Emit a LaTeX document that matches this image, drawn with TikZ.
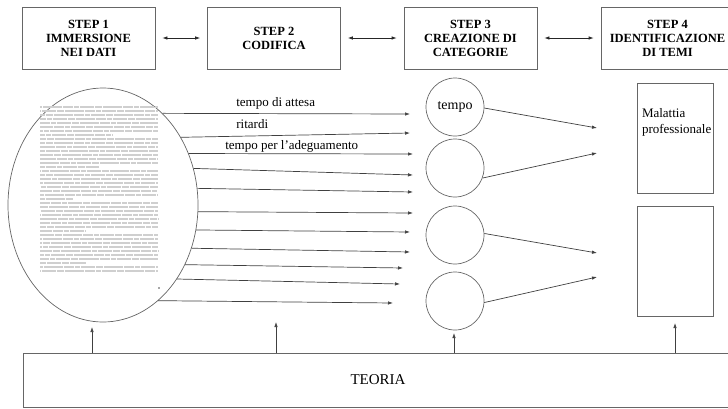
\documentclass[tikz,border=0pt]{standalone}
\usepackage{fontspec}
\setmainfont{Liberation Serif}
\usetikzlibrary{shapes.geometric, arrows.meta}

\begin{document}
\begin{tikzpicture}[x=1pt, y=-1pt, line width=0.7pt,
    stepbox/.style={draw=black!60, minimum width=133pt, minimum height=62pt, align=center, inner sep=1pt,
                    font=\bfseries\fontsize{12.5}{14}\selectfont},
    catnode/.style={draw=black!60, circle, minimum size=58pt, inner sep=0pt, font=\fontsize{14}{16}\selectfont},
    themebox/.style={draw=black!60, minimum width=76pt, minimum height=110pt},
    flow/.style={draw=black!75, -{Latex[length=5pt, width=3.5pt]}},
    link/.style={draw=black!85, {Latex[length=5pt, width=3.5pt]}-{Latex[length=5pt, width=3.5pt]},
                 shorten <=7pt, shorten >=7pt},
    lbl/.style={anchor=west, inner sep=0pt, font=\fontsize{13}{16}\selectfont},
    scrib/.style={gray!38, line width=1.4pt,
                  dash pattern=on 14pt off 1pt on 7pt off 1pt on 19pt off 1pt on 10pt off 1pt on 5pt off 1pt}]
  \useasboundingbox (0,0) rectangle (728,408);
  \clip (0,0) rectangle (728,408);

  \node[stepbox] (s1) at (88.5,38)  {STEP 1\\IMMERSIONE\\NEI DATI};
  \node[stepbox] (s2) at (274,38)   {STEP 2\\CODIFICA};
  \node[stepbox] (s3) at (470.5,38) {STEP 3\\CREAZIONE DI\\CATEGORIE};
  \node[stepbox] (s4) at (667.5,38) {STEP 4\\IDENTIFICAZIONE\\DI TEMI};
  \foreach \a/\b in {s1/s2, s2/s3, s3/s4}
    \draw[link] (\a) -- (\b);

  \node[draw=black!60, ellipse, minimum width=190pt, minimum height=234pt, inner sep=0pt] (doc) at (103,205) {};
  \pgfmathsetseed{42}
  \foreach \k in {0,...,41} {
    \pgfmathsetmacro{\len}{mod(\k,8)==7 ? 30+70*rnd : 118}
    \pgfmathsetmacro{\ph}{60*rnd}
    \draw[scrib, dash phase=\ph pt] (40,107+4*\k) -- ++(\len,0);
  }
  \fill[black!70] (159,288) circle (0.8pt);

  \foreach \a/\x/\y [count=\i] in {57/410/114, 41/410/133, 31/413/154, 22/413/175, 10/413/192, -4/413/213,
                                   -15/410/232, -26/410/252, -36/403/268, -45/400/284, -60/393/303} {
    \coordinate (e\i) at (\x,\y);
    \draw[flow] (doc.\a) -- (e\i);
  }
  \node[lbl] (l1) at (236,103) {tempo di attesa};
  \node[lbl] (l2) at (236,124) {ritardi};
  \node[lbl] (l3) at (225,146) {tempo per l’adeguamento};

  \node[catnode] (c1) at (455,107) {tempo};
  \node[catnode] (c2) at (455,168) {};
  \node[catnode] (c3) at (455,235) {};
  \node[catnode] (c4) at (455,301) {};
  \foreach \c/\a/\x/\y in {c1/-2/597/128, c2/-20/597/153, c3/3/597/253, c4/-3/597/277} {
    \coordinate (h\c) at (\x,\y);
    \draw[flow] (\c.\a) -- (h\c);
  }

  \node[themebox] (t1) at (675,138) {};
  \node[themebox] (t2) at (675,261) {};
  \node[lbl, anchor=north west, align=left] (t1txt) at ([shift={(5,25)}]t1.north west) {Malattia\\professionale};

  \node[draw=black!60, minimum width=710pt, minimum height=54pt, font=\fontsize{15}{18}\selectfont] (teoria) at (378,380) {TEORIA};
  \foreach \x/\y [count=\i] in {92/327, 276/322, 454/333, 675/323} {
    \coordinate (u\i) at (\x,\y);
    \draw[flow] (teoria.north -| u\i) -- (u\i);
  }
\end{tikzpicture}
\end{document}
